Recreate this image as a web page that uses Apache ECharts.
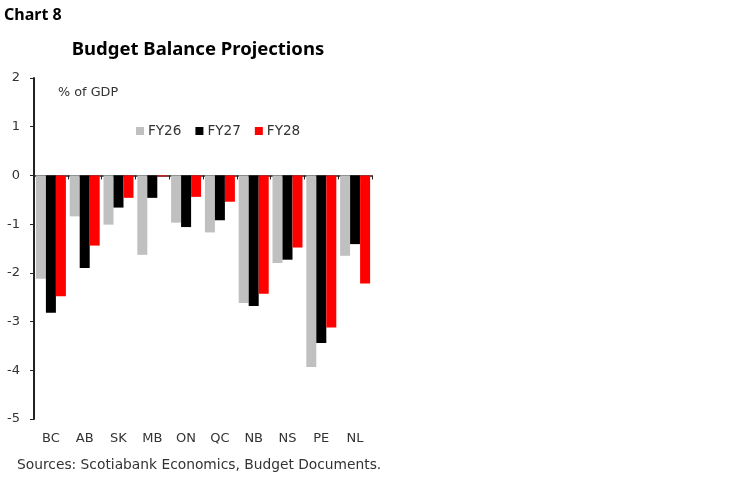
<!DOCTYPE html>
<html>
<head>
<meta charset="utf-8">
<script src="https://cdn.jsdelivr.net/npm/echarts@6/dist/echarts.min.js"></script>
<style>
  html, body { margin: 0; padding: 0; background: #fff; }
  #chart { width: 749px; height: 482px; }
</style>
</head>
<body>
<div id="chart"></div>
<script>
const provinces = ["BC", "AB", "SK", "MB", "ON", "QC", "NB", "NS", "PE", "NL"];
const fy26 = [-2.12, -0.84, -1.01, -1.63, -0.97, -1.17, -2.62, -1.80, -3.93, -1.65];
const fy27 = [-2.82, -1.90, -0.66, -0.46, -1.06, -0.92, -2.68, -1.73, -3.44, -1.41];
const fy28 = [-2.48, -1.44, -0.46, -0.02, -0.44, -0.54, -2.43, -1.48, -3.12, -2.22];

const COLORS = { fy26: "#c0c0c0", fy27: "#000000", fy28: "#ff0000", text: "#333333" };
const BODY_FONT = "DejaVu Sans";
const TITLE_FONT = "Noto Sans";

const chart = echarts.init(document.getElementById("chart"));

function barSeries(name, data, color) {
  return {
    name,
    type: "bar",
    data,
    barWidth: 10,
    barGap: "0%",
    itemStyle: { color },
  };
}

chart.setOption({
  animation: false,
  textStyle: { fontFamily: BODY_FONT },
  title: [
    { text: "Chart 8", left: 4, top: 7, padding: 0,
      textStyle: { fontFamily: TITLE_FONT, fontSize: 16, fontWeight: "bold", color: "#000" } },
    { text: "Budget Balance Projections", left: 198, top: 40, padding: 0, textAlign: "center",
      textStyle: { fontFamily: TITLE_FONT, fontSize: 18.5, fontWeight: "bold", color: "#000" } },
    { text: "% of GDP", left: 58, top: 86, padding: 0,
      textStyle: { fontSize: 12.8, fontWeight: "normal", color: COLORS.text } },
    { text: "Sources: Scotiabank Economics, Budget Documents.", left: 17, top: 458, padding: 0,
      textStyle: { fontSize: 13.8, fontWeight: "normal", color: COLORS.text } },
  ],
  legend: {
    left: 131, top: 119,
    icon: "rect", itemWidth: 8, itemHeight: 8, itemGap: 14,
    textStyle: { fontSize: 13.6, color: COLORS.text, padding: [0, 0, 0, -1] },
    data: ["FY26", "FY27", "FY28"],
  },
  grid: { left: 34, right: 377, top: 78, bottom: 63, containLabel: false },
  xAxis: [
    {
      type: "category",
      data: provinces,
      position: "bottom",
      axisLine: { onZero: true, lineStyle: { color: "#222", width: 1.5 } },
      axisTick: { show: true, length: 4, lineStyle: { color: "#222" } },
      axisLabel: { show: false },
    },
    {
      type: "category",
      data: provinces,
      position: "bottom",
      axisLine: { show: false, onZero: false },
      axisTick: { show: false },
      axisLabel: { color: COLORS.text, fontSize: 13, margin: 13 },
    },
  ],
  yAxis: {
    type: "value",
    min: -5, max: 2, interval: 1,
    axisLine: { show: true, lineStyle: { color: "#222", width: 2 } },
    axisTick: { show: true, length: 4, lineStyle: { color: "#222" } },
    axisLabel: { color: COLORS.text, fontSize: 13, margin: 14,
      formatter: (v) => (v < 0 ? "-" + Math.abs(v) : String(v)) },
    splitLine: { show: false },
  },
  series: [
    barSeries("FY26", fy26, COLORS.fy26),
    barSeries("FY27", fy27, COLORS.fy27),
    barSeries("FY28", fy28, COLORS.fy28),
  ],
});
</script>
</body>
</html>
